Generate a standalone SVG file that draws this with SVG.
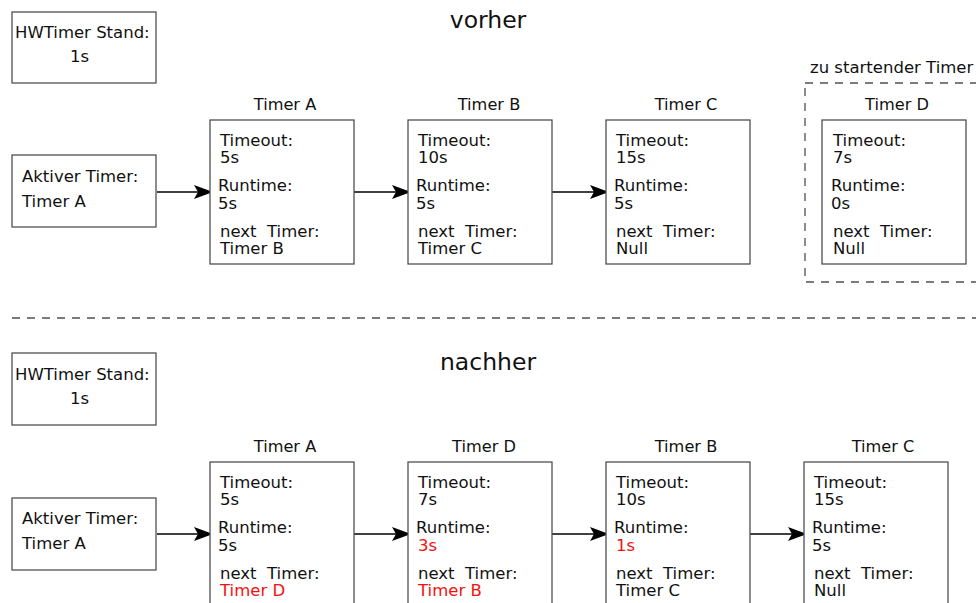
<svg xmlns="http://www.w3.org/2000/svg" width="976" height="603" viewBox="0 0 976 603">
  <style>
    text { font-family: "DejaVu Sans", "Liberation Sans", sans-serif; font-size: 16.5px; fill: #111; }
    .title { font-size: 23.5px; text-anchor: middle; }
    .cap { text-anchor: middle; font-size: 16.2px; }
    .red { fill: #f51010; }
    .box { fill: #fff; stroke: #505050; stroke-width: 1.3; }
    .dash { fill: none; stroke: #505050; stroke-width: 1.3; stroke-dasharray: 8 7; }
    .link { stroke: #000; stroke-width: 1.6; fill: none; marker-end: url(#arrow); }
  </style>
  <defs>
    <marker id="arrow" markerUnits="userSpaceOnUse" viewBox="0 0 20 16" refX="19" refY="8" markerWidth="20" markerHeight="16" orient="auto">
      <path d="M19,8 L0,1 L4,8 L0,15 Z" fill="#000"/>
    </marker>
  </defs>
  <rect width="976" height="603" fill="#fff"/>

  <!-- section headings and separator -->
  <text class="title" x="488" y="28">vorher</text>
  <text class="title" x="488" y="370">nachher</text>
  <line class="dash" x1="12" y1="318" x2="976" y2="318"/>

  <!-- connectors -->
  <g id="connectors">
    <line class="link" x1="157" y1="192" x2="213" y2="192"/>
    <line class="link" x1="354" y1="192" x2="411" y2="192"/>
    <line class="link" x1="552" y1="192" x2="609" y2="192"/>
    <line class="link" x1="157" y1="534" x2="213" y2="534"/>
    <line class="link" x1="354" y1="534" x2="411" y2="534"/>
    <line class="link" x1="552" y1="534" x2="609" y2="534"/>
    <line class="link" x1="750" y1="534" x2="807" y2="534"/>
  </g>

  <!-- before -->
  <g id="hw-before">
    <rect class="box" x="12" y="12" width="144" height="71"/>
    <text x="15" y="38">HWTimer Stand:</text>
    <text x="70" y="62">1s</text>
  </g>
  <g id="active-before">
    <rect class="box" x="12" y="155" width="144" height="72"/>
    <text x="22" y="182">Aktiver Timer:</text>
    <text x="22" y="207">Timer A</text>
  </g>
  <g id="timerA-before">
    <text class="cap" x="285" y="110">Timer A</text>
    <rect class="box" x="210" y="120" width="144" height="144"/>
    <text x="220" y="146">Timeout:</text>
    <text x="220" y="163">5s</text>
    <text x="218" y="191">Runtime:</text>
    <text x="218" y="209">5s</text>
    <text x="220" y="237" xml:space="preserve">next  Timer:</text>
    <text x="220" y="254">Timer B</text>
  </g>
  <g id="timerB-before">
    <text class="cap" x="489" y="110">Timer B</text>
    <rect class="box" x="408" y="120" width="144" height="144"/>
    <text x="418" y="146">Timeout:</text>
    <text x="418" y="163">10s</text>
    <text x="416" y="191">Runtime:</text>
    <text x="416" y="209">5s</text>
    <text x="418" y="237" xml:space="preserve">next  Timer:</text>
    <text x="418" y="254">Timer C</text>
  </g>
  <g id="timerC-before">
    <text class="cap" x="686" y="110">Timer C</text>
    <rect class="box" x="606" y="120" width="144" height="144"/>
    <text x="616" y="146">Timeout:</text>
    <text x="616" y="163">15s</text>
    <text x="614" y="191">Runtime:</text>
    <text x="614" y="209">5s</text>
    <text x="616" y="237" xml:space="preserve">next  Timer:</text>
    <text x="616" y="254">Null</text>
  </g>
  <g id="timerD-pending">
    <text x="810" y="73">zu startender Timer</text>
    <rect class="dash" x="805" y="83" width="190" height="199"/>
    <text class="cap" x="897" y="110">Timer D</text>
    <rect class="box" x="822" y="120" width="144" height="144"/>
    <text x="833" y="146">Timeout:</text>
    <text x="833" y="163">7s</text>
    <text x="831" y="191">Runtime:</text>
    <text x="831" y="209">0s</text>
    <text x="833" y="237" xml:space="preserve">next  Timer:</text>
    <text x="833" y="254">Null</text>
  </g>

  <!-- after -->
  <g id="hw-after">
    <rect class="box" x="12" y="353" width="144" height="72"/>
    <text x="15" y="380">HWTimer Stand:</text>
    <text x="70" y="404">1s</text>
  </g>
  <g id="active-after">
    <rect class="box" x="12" y="498" width="144" height="72"/>
    <text x="22" y="524">Aktiver Timer:</text>
    <text x="22" y="549">Timer A</text>
  </g>
  <g id="timerA-after">
    <text class="cap" x="285" y="452">Timer A</text>
    <rect class="box" x="210" y="462" width="144" height="144"/>
    <text x="220" y="488">Timeout:</text>
    <text x="220" y="505">5s</text>
    <text x="218" y="533">Runtime:</text>
    <text x="218" y="551">5s</text>
    <text x="220" y="579" xml:space="preserve">next  Timer:</text>
    <text class="red" x="220" y="596">Timer D</text>
  </g>
  <g id="timerD-after">
    <text class="cap" x="484" y="452">Timer D</text>
    <rect class="box" x="408" y="462" width="144" height="144"/>
    <text x="418" y="488">Timeout:</text>
    <text x="418" y="505">7s</text>
    <text x="416" y="533">Runtime:</text>
    <text class="red" x="418" y="551">3s</text>
    <text x="418" y="579" xml:space="preserve">next  Timer:</text>
    <text class="red" x="418" y="596">Timer B</text>
  </g>
  <g id="timerB-after">
    <text class="cap" x="686" y="452">Timer B</text>
    <rect class="box" x="606" y="462" width="144" height="144"/>
    <text x="616" y="488">Timeout:</text>
    <text x="616" y="505">10s</text>
    <text x="614" y="533">Runtime:</text>
    <text class="red" x="616" y="551">1s</text>
    <text x="616" y="579" xml:space="preserve">next  Timer:</text>
    <text x="616" y="596">Timer C</text>
  </g>
  <g id="timerC-after">
    <text class="cap" x="883" y="452">Timer C</text>
    <rect class="box" x="804" y="462" width="144" height="144"/>
    <text x="814" y="488">Timeout:</text>
    <text x="814" y="505">15s</text>
    <text x="812" y="533">Runtime:</text>
    <text x="812" y="551">5s</text>
    <text x="814" y="579" xml:space="preserve">next  Timer:</text>
    <text x="814" y="596">Null</text>
  </g>
</svg>
